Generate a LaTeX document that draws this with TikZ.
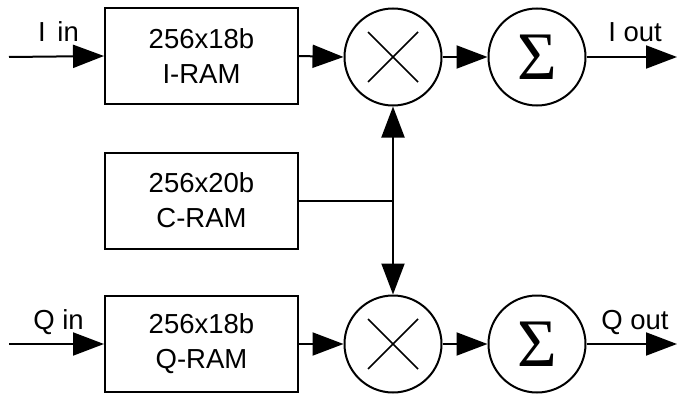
\documentclass[tikz,border=0pt]{standalone}
\usepackage{fontspec}
\setmainfont{Liberation Sans}
\newfontfamily\sigmafont{Liberation Serif}
\usetikzlibrary{arrows.meta, positioning}

\tikzset{
  ram/.style={draw, line width=2pt, minimum width=193pt, minimum height=96pt,
    align=center, font=\fontsize{27.5}{35}\selectfont},
  op/.style={draw, circle, line width=2pt, minimum size=97pt, inner sep=0pt},
  flow/.style={line width=2pt, -{Triangle[length=31pt,width=23pt]}},
  wire/.style={line width=2pt},
  xline/.style={line width=1.5pt},
  lbl/.style={font=\fontsize{27.5}{30}\selectfont, anchor=base}
}

\begin{document}
\begin{tikzpicture}[x=1pt, y=-1pt]
\useasboundingbox (0,0) rectangle (677,396);

% RAM blocks
\node[ram] (iram) at (201.5,56) {256x18b\\I-RAM};
\node[ram] (cram) at (201.5,200.5) {256x20b\\C-RAM};
\node[ram] (qram) at (201.5,344) {256x18b\\Q-RAM};

% multipliers and accumulators
\node[op] (imul) at (393,57) {};
\node[op] (qmul) at (393,344) {};
\node[op, font=\sigmafont\fontsize{68}{68}\selectfont] (isum) at (537,57) {Σ};
\node[op, font=\sigmafont\fontsize{68}{68}\selectfont] (qsum) at (537,344) {Σ};
\draw[xline] (imul) ++(-25,-25) -- ++(50,50) (imul) ++(-25,25) -- ++(50,-50);
\draw[xline] (qmul) ++(-25,-25) -- ++(50,50) (qmul) ++(-25,25) -- ++(50,-50);

% ends of the signal path
\coordinate (iin) at (9,57);
\coordinate (qin) at (9,344);
\coordinate (iout) at (677,57);
\coordinate (qout) at (677,344);
\coordinate (tap) at (imul.south |- cram.east);

% I path
\draw[flow] (iin) -- (iram.west);
\draw[flow] (iram.east) -- (imul.west);
\draw[flow] (imul.east) -- (isum.west);
\draw[flow] (isum.east) -- (iout);

% Q path
\draw[flow] (qin) -- (qram.west);
\draw[flow] (qram.east) -- (qmul.west);
\draw[flow] (qmul.east) -- (qsum.west);
\draw[flow] (qsum.east) -- (qout);

% coefficients
\draw[wire] (cram.east) -- (tap);
\draw[flow] (tap) -- (imul.south);
\draw[flow] (tap) -- (qmul.north);

\node[lbl] (ilbl) at (58.5,42) {I\hspace{4pt} in};
\node[lbl] (qlbl) at (58.5,329) {Q in};
\node[lbl] (iolbl) at (635,42) {I out};
\node[lbl] (qolbl) at (635,329) {Q out};
\end{tikzpicture}
\end{document}
